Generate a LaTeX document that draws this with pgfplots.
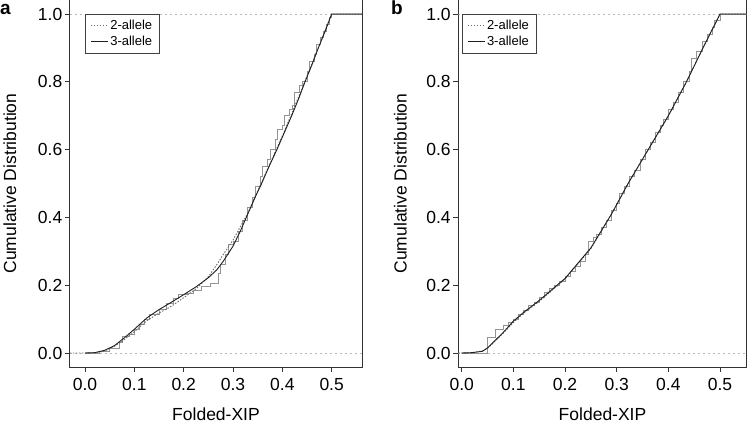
\documentclass[border=0pt]{standalone}
\usepackage{fontspec}
\setmainfont{Liberation Sans}
\usepackage{pgfplots}
\pgfplotsset{compat=1.18}
\definecolor{curvedark}{gray}{0.12}
\definecolor{curvedot}{gray}{0.42}
\definecolor{stairgray}{gray}{0.58}
\definecolor{refgray}{gray}{0.72}
\pgfplotsset{
  panel/.style={
    scale only axis,
    height=367pt,
    ymin=-0.0413, ymax=1.0413,
    xtick={0,0.1,0.2,0.3,0.4,0.5},
    xticklabels={0.0,0.1,0.2,0.3,0.4,0.5},
    ytick={0,0.2,0.4,0.6,0.8,1},
    yticklabels={0.0,0.2,0.4,0.6,0.8,1.0},
    xtick pos=left, ytick pos=left,
    tick align=outside,
    major tick length=5pt,
    tick style={black!80, line width=0.8pt},
    axis line style={black!80, line width=1pt},
    every tick label/.append style={font=\fontsize{17.5}{20}\selectfont, inner sep=2.5pt},
    xticklabel style={yshift=-4pt},
    xlabel={Folded-XIP},
    ylabel={Cumulative Distribution},
    every axis x label/.style={at={(axis description cs:0.5,-0.128)}, anchor=center, font=\fontsize{17.5}{20}\selectfont},
    legend cell align=left,
    legend image code/.code={\draw[##1] (0pt,0pt) -- (17pt,0pt);},
    legend style={at={(axis cs:0,1)}, anchor=north west, draw=black!75, line width=0.8pt,
      font=\fontsize{13}{13}\selectfont, inner xsep=5pt, inner ysep=4pt, row sep=1pt},
  },
  refline/.style={refgray, line width=0.9pt, dash pattern=on 2pt off 3pt, forget plot},
  stair/.style={stairgray, line width=0.8pt, const plot, forget plot},
  twoall/.style={curvedot, line width=0.9pt, dash pattern=on 1.5pt off 1.5pt},
  threeall/.style={curvedark, line width=0.9pt},
}
\begin{document}
\begin{tikzpicture}[x=1pt,y=1pt]
\path[use as bounding box] (0,0) rectangle (750,426);
% ---------------- panel a ----------------
\begin{axis}[panel, at={(70pt,59pt)}, anchor=south west, width=292pt,
  xmin=-0.0304, xmax=0.5615,
  every axis y label/.style={at={(axis description cs:-0.2055,0.5)}, rotate=90, anchor=center, font=\fontsize{17.5}{20}\selectfont}]
\addplot[refline] coordinates {(-0.0304,0) (0.5615,0)};
\addplot[refline] coordinates {(-0.0304,1) (0.5615,1)};
\addplot[stair] coordinates {
(0.00,0) (0.03,0.005) (0.05,0.015) (0.07,0.03) (0.075,0.05) (0.09,0.055) (0.10,0.07)
(0.11,0.085) (0.12,0.10) (0.13,0.115) (0.15,0.13) (0.165,0.145) (0.18,0.16) (0.19,0.172)
(0.205,0.175) (0.22,0.185) (0.235,0.195) (0.255,0.205) (0.27,0.235) (0.275,0.26) (0.285,0.29)
(0.29,0.32) (0.30,0.33) (0.31,0.36) (0.32,0.39) (0.33,0.43) (0.34,0.46) (0.345,0.49)
(0.355,0.52) (0.36,0.55) (0.37,0.57) (0.375,0.60) (0.385,0.63) (0.39,0.66) (0.40,0.67)
(0.405,0.70) (0.415,0.72) (0.42,0.73) (0.425,0.77) (0.435,0.79) (0.44,0.80) (0.45,0.83)
(0.455,0.86) (0.465,0.88) (0.47,0.91) (0.478,0.93) (0.483,0.95) (0.49,0.97) (0.495,0.99)
(0.5,1.0) (0.5615,1.0)};
\addplot[twoall] coordinates {
(-0.0304,0) (0,0) (0.02,0.001) (0.04,0.006) (0.06,0.02) (0.08,0.04) (0.1,0.063) (0.125,0.095)
(0.15,0.118) (0.172,0.135) (0.2,0.163) (0.226,0.19) (0.25,0.225) (0.267,0.26) (0.28,0.29)
(0.3,0.333) (0.33,0.413) (0.36,0.51) (0.4,0.64) (0.44,0.78) (0.47,0.89) (0.5,1.0) (0.5615,1.0)};
\addlegendentry{2-allele}
\addplot[threeall] coordinates {
(0,0) (0.02,0.001) (0.04,0.008) (0.06,0.022) (0.08,0.045) (0.1,0.07) (0.125,0.103)
(0.15,0.128) (0.172,0.147) (0.2,0.172) (0.226,0.196) (0.25,0.222) (0.267,0.245) (0.28,0.27)
(0.3,0.315) (0.315,0.36) (0.33,0.41) (0.345,0.46) (0.358,0.50) (0.373,0.55) (0.389,0.60)
(0.404,0.65) (0.419,0.70) (0.433,0.75) (0.446,0.80) (0.46,0.85) (0.473,0.90) (0.487,0.95)
(0.5,1.0) (0.5615,1.0)};
\addlegendentry{3-allele}
\end{axis}
% ---------------- panel b ----------------
\begin{axis}[panel, at={(458.3pt,59pt)}, anchor=south west, width=288.4pt,
  xmin=-0.0066, xmax=0.5516,
  every axis y label/.style={at={(axis description cs:-0.2007,0.5)}, rotate=90, anchor=center, font=\fontsize{17.5}{20}\selectfont}]
\addplot[refline] coordinates {(-0.0066,0) (0.5516,0)};
\addplot[refline] coordinates {(-0.0066,1) (0.5516,1)};
\addplot[stair] coordinates {
(0,0) (0.05,0.045) (0.065,0.07) (0.08,0.08) (0.09,0.09) (0.10,0.10) (0.11,0.115) (0.12,0.125)
(0.13,0.14) (0.14,0.15) (0.15,0.165) (0.16,0.18) (0.17,0.19) (0.18,0.20) (0.19,0.21)
(0.20,0.225) (0.21,0.24) (0.22,0.255) (0.23,0.27) (0.24,0.29) (0.245,0.33) (0.255,0.34)
(0.26,0.35) (0.27,0.37) (0.28,0.39) (0.29,0.42) (0.30,0.44) (0.305,0.47) (0.315,0.49)
(0.325,0.52) (0.335,0.54) (0.345,0.57) (0.355,0.60) (0.365,0.62) (0.375,0.65) (0.385,0.67)
(0.39,0.69) (0.40,0.72) (0.41,0.74) (0.42,0.77) (0.43,0.80) (0.44,0.83) (0.445,0.87)
(0.455,0.89) (0.465,0.92) (0.475,0.94) (0.485,0.96) (0.49,0.98) (0.5,1.0) (0.5516,1.0)};
\addplot[twoall] coordinates {
(-0.0066,0) (0,0) (0.02,0.001) (0.04,0.006) (0.05,0.014) (0.06,0.028) (0.08,0.058) (0.1,0.09)
(0.12,0.118) (0.15,0.152) (0.2,0.218) (0.25,0.308) (0.29,0.41) (0.322,0.5) (0.361,0.6)
(0.40,0.7) (0.435,0.8) (0.467,0.9) (0.5,1.0) (0.5516,1.0)};
\addlegendentry{2-allele}
\addplot[threeall] coordinates {
(0,0) (0.02,0.001) (0.04,0.005) (0.05,0.015) (0.06,0.03) (0.08,0.06) (0.1,0.094) (0.12,0.12)
(0.15,0.155) (0.2,0.22) (0.25,0.31) (0.29,0.41) (0.322,0.5) (0.361,0.6) (0.40,0.7)
(0.435,0.8) (0.467,0.9) (0.5,1.0) (0.5516,1.0)};
\addlegendentry{3-allele}
\end{axis}
\node[anchor=base west, inner sep=0pt, font=\fontsize{19}{20}\selectfont\bfseries] at (0,411) {a};
\node[anchor=base west, inner sep=0pt, font=\fontsize{19}{20}\selectfont\bfseries] at (391,411) {b};
\end{tikzpicture}
\end{document}
